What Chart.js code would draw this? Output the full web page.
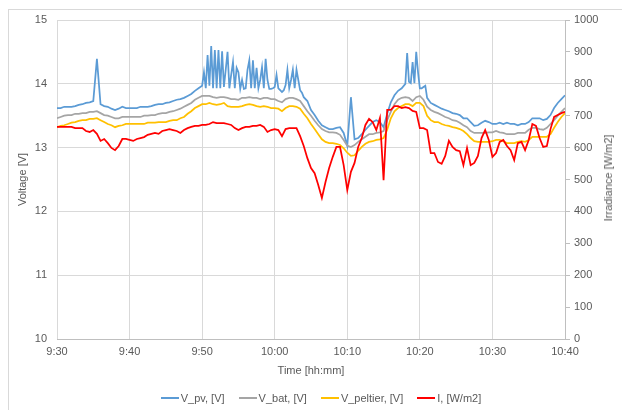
<!DOCTYPE html>
<html><head><meta charset="utf-8">
<script src="https://cdn.jsdelivr.net/npm/chart.js@4"></script>
<style>
html,body{margin:0;padding:0;background:#fff;}
#wrap{position:relative;width:622px;height:410px;overflow:hidden;font-family:'Liberation Sans',Arial,sans-serif;color:#595959;}
#frame{position:absolute;left:8px;top:9px;width:700px;height:500px;border:1px solid #d9d9d9;box-sizing:border-box;}
#c{position:absolute;left:0;top:0;}
#ytitle2{position:absolute;left:608px;top:178px;transform:translate(-50%,-50%) rotate(-90deg);font-size:11px;white-space:nowrap;}
#legend{position:absolute;left:10px;width:622px;top:391px;display:flex;justify-content:center;font-size:11px;line-height:14px;}
#legend .it{display:flex;align-items:center;margin:0 7px;}
#legend .ln{display:inline-block;width:18px;height:0;border-top:2px solid;margin-right:2px;}
</style>
</head><body>
<div id="wrap">
<div id="frame"></div>
<canvas id="c" width="622" height="410"></canvas>
<div id="ytitle2">Irradiance [W/m2]</div>
<div id="legend"></div>
</div>
<script>
// minutes after 9:30
const time = [
0,0.5,1,1.5,2,2.5,3,3.5,4,4.5,
5,5.5,6,6.5,7,7.5,8,8.5,9,9.5,
10,10.5,11,11.5,12,12.5,13,13.5,14,14.5,
15,15.5,16,16.5,17,17.5,18,18.5,19,19.5,
20,20.5,21,21.5,22,22.5,23,23.5,24,24.5,
25,25.5,26,26.5,27,27.5,28,28.5,29,29.5,
30,30.5,31,31.5,32,32.5,33,33.5,34,34.5,
35,35.5,36,36.5,37,37.5,38,38.5,39,39.5,
40,40.5,41,41.5,42,42.5,43,43.5,44,44.5,
45,45.5,46,46.5,47,47.5,48,48.5,49,49.5,
50,50.5,51,51.5,52,52.5,53,53.5,54,54.5,
55,55.5,56,56.5,57,57.5,58,58.5,59,59.5,
60,60.5,61,61.5,62,62.5,63,63.5,64,64.5,
65,65.5,66,66.5,67,67.5,68,68.5,69,69.5,
70];

const vBat = [
13.46,13.48,13.50,13.51,13.51,13.53,13.53,13.54,13.54,13.56,
13.56,13.57,13.54,13.51,13.50,13.48,13.46,13.46,13.48,13.48,
13.48,13.48,13.48,13.48,13.50,13.50,13.51,13.51,13.53,13.54,
13.54,13.56,13.57,13.59,13.61,13.64,13.67,13.70,13.75,13.78,
13.81,13.81,13.81,13.79,13.78,13.79,13.79,13.78,13.76,13.76,
13.75,13.78,13.78,13.79,13.78,13.78,13.76,13.78,13.78,13.76,
13.76,13.73,13.71,13.76,13.78,13.78,13.76,13.73,13.65,13.57,
13.50,13.42,13.35,13.29,13.26,13.24,13.24,13.23,13.20,13.12,
13.03,13.01,13.04,13.09,13.13,13.17,13.21,13.21,13.23,13.24,
13.26,13.43,13.56,13.68,13.75,13.78,13.79,13.78,13.73,13.79,
13.81,13.75,13.64,13.59,13.56,13.54,13.51,13.48,13.46,13.43,
13.42,13.39,13.35,13.32,13.26,13.23,13.23,13.23,13.23,13.24,
13.24,13.26,13.24,13.23,13.21,13.21,13.21,13.23,13.23,13.23,
13.28,13.31,13.31,13.29,13.28,13.31,13.37,13.43,13.50,13.56,
13.62];

const vPeltier = [
13.32,13.34,13.35,13.37,13.39,13.40,13.42,13.43,13.43,13.45,
13.45,13.46,13.43,13.40,13.37,13.35,13.32,13.34,13.35,13.37,
13.37,13.37,13.37,13.37,13.37,13.39,13.39,13.39,13.40,13.40,
13.40,13.42,13.43,13.43,13.46,13.48,13.53,13.57,13.62,13.65,
13.68,13.68,13.70,13.68,13.67,13.68,13.70,13.65,13.64,13.64,
13.64,13.65,13.67,13.68,13.67,13.65,13.64,13.65,13.64,13.62,
13.62,13.61,13.57,13.62,13.65,13.65,13.64,13.61,13.53,13.46,
13.37,13.29,13.21,13.13,13.09,13.07,13.07,13.06,13.04,12.99,
12.92,12.87,12.88,12.95,13.01,13.06,13.09,13.10,13.12,13.13,
13.15,13.28,13.46,13.57,13.62,13.65,13.68,13.68,13.65,13.70,
13.70,13.65,13.50,13.43,13.40,13.40,13.37,13.35,13.34,13.32,
13.31,13.29,13.26,13.21,13.15,13.10,13.09,13.09,13.09,13.09,
13.10,13.12,13.12,13.10,13.07,13.07,13.07,13.09,13.10,13.09,
13.12,13.17,13.17,13.17,13.17,13.17,13.21,13.31,13.40,13.48,
13.54];

const irradiance = [
665,665,665,665,665,661,661,661,652,649,
655,643,621,627,614,599,592,605,627,627,
624,621,627,630,633,640,643,646,643,652,
655,658,655,652,646,655,661,665,668,668,
671,671,674,680,677,677,677,674,671,661,
655,661,665,665,668,668,671,665,649,655,
658,655,636,658,661,661,661,636,605,567,
536,520,483,442,492,536,571,602,602,545,
467,524,552,602,630,671,690,680,655,693,
498,718,718,730,730,724,727,724,715,712,
661,661,655,583,583,555,549,574,621,602,
592,589,545,599,545,552,574,630,655,624,
571,583,618,624,605,592,561,614,618,592,
624,674,668,630,602,605,658,696,702,708,
712];

// V_pv sampled more finely where it oscillates
const timePv = [
0,0.5,1,1.5,2,2.5,3,3.5,4,4.5,
5,5.5,6,6.5,7,7.5,8,8.5,9,9.5,
10,10.5,11,11.5,12,12.5,13,13.5,14,14.5,
15,15.5,16,16.5,17,17.5,18,18.5,19,19.5,
20,20.25,20.5,20.75,21,21.25,21.5,21.75,22,22.25,
22.5,22.75,23,23.25,23.5,23.75,24,24.25,24.5,24.75,
25,25.25,25.5,25.75,26,26.25,26.5,26.75,27,27.25,
27.5,27.75,28,28.25,28.5,28.75,29,29.25,29.5,29.75,
30,30.25,30.5,30.75,31,31.25,31.5,31.75,32,32.25,
32.5,32.75,33,33.25,33.5,33.75,34,
34.5,35,35.5,36,36.5,37,37.5,38,38.5,39,
39.5,40,40.5,41,41.5,42,42.5,43,43.5,44,
44.5,45,45.5,46,46.5,47,47.5,
48,48.25,48.5,48.75,49,49.25,49.5,49.75,50,50.25,50.5,50.75,51,
51.5,52,52.5,53,53.5,54,54.5,55,55.5,56,
56.5,57,57.5,58,58.5,59,59.5,60,60.5,61,
61.5,62,62.5,63,63.5,64,64.5,65,65.5,66,
66.5,67,67.5,68,68.5,69,69.5,70];

const vPv = [
13.62,13.62,13.64,13.64,13.64,13.65,13.67,13.68,13.70,13.71,
13.73,14.39,13.68,13.65,13.64,13.61,13.59,13.61,13.64,13.62,
13.62,13.62,13.62,13.64,13.64,13.64,13.65,13.67,13.68,13.68,
13.70,13.71,13.73,13.75,13.76,13.78,13.81,13.84,13.89,13.93,
13.97,14.18,13.93,14.45,13.97,14.59,13.93,14.53,13.93,14.53,
13.93,14.51,13.95,14.22,14.50,13.93,14.14,14.34,13.93,14.25,
14.18,13.92,14.06,13.92,13.93,14.22,14.37,13.93,14.37,13.93,
14.25,13.93,14.06,14.26,13.93,14.39,14.06,13.92,13.92,13.93,
13.95,14.14,13.93,13.90,13.87,13.90,13.98,14.22,13.93,14.06,
14.22,13.93,14.22,14.06,13.90,13.86,13.79,
13.73,13.59,13.51,13.42,13.35,13.32,13.29,13.29,13.31,13.32,
13.23,13.03,13.79,13.13,13.15,13.21,13.28,13.34,13.40,13.43,
13.40,13.32,13.53,13.71,13.82,13.89,13.93,
14.00,14.48,14.03,14.01,14.34,14.01,14.50,14.18,13.93,13.93,13.95,13.97,13.78,
13.70,13.67,13.64,13.61,13.59,13.57,13.54,13.53,13.51,13.46,
13.46,13.40,13.34,13.35,13.39,13.42,13.40,13.37,13.37,13.39,
13.37,13.39,13.37,13.37,13.35,13.37,13.37,13.40,13.46,13.46,
13.46,13.43,13.45,13.51,13.62,13.70,13.76,13.82];

const timeTickLabels = ['9:30','9:40','9:50','10:00','10:10','10:20','10:30','10:40'];
const seriesNames = ['V_pv, [V]','V_bat, [V]','V_peltier, [V]','I, [W/m2]'];
const seriesColors = ['#5B9BD5','#A5A5A5','#FFC000','#FF0000'];

function pts(xs, ys){ return xs.map((x,i)=>({x:x,y:ys[i]})); }

Chart.defaults.font.family = "'Liberation Sans', Arial, sans-serif";
Chart.defaults.font.size = 11;
Chart.defaults.color = '#595959';

const mk = (i, xs, ys, axis, order) => ({
  label: seriesNames[i], data: pts(xs, ys), yAxisID: axis,
  borderColor: seriesColors[i], backgroundColor: seriesColors[i],
  borderWidth: 1.75, pointRadius: 0, tension: 0, fill: false, order: order
});

new Chart(document.getElementById('c'), {
  type: 'line',
  data: { datasets: [
    mk(0, timePv, vPv, 'y', 4),
    mk(1, time, vBat, 'y', 3),
    mk(2, time, vPeltier, 'y', 2),
    mk(3, time, irradiance, 'y1', 1)
  ]},
  options: {
    responsive: false, animation: false, devicePixelRatio: 1,
    layout: { padding: { left: 0, right: 0, top: 20, bottom: 30 } },
    plugins: { legend: { display: false }, tooltip: { enabled: false } },
    scales: {
      x: {
        type: 'linear', min: 0, max: 70,
        ticks: { stepSize: 10, padding: 6, maxRotation: 0,
          callback: (v) => timeTickLabels[Math.round(v/10)] },
        grid: { color: '#d9d9d9', drawTicks: false },
        border: { display: true, color: '#bfbfbf' },
        title: { display: true, text: 'Time [hh:mm]', padding: { top: 0, bottom: 2 } },
        afterFit: (s) => { s.height = 41; }
      },
      y: {
        position: 'left', min: 10, max: 15,
        ticks: { stepSize: 1, padding: 10, callback: (v) => String(v) },
        grid: { color: '#d9d9d9', drawTicks: false },
        border: { display: false },
        title: { display: true, text: 'Voltage [V]', padding: { top: 16, bottom: 0 } },
        afterFit: (s) => { s.width = 57; }
      },
      y1: {
        position: 'right', min: 0, max: 1000,
        ticks: { stepSize: 100, padding: 4, callback: (v) => String(v) },
        grid: { drawOnChartArea: false, drawTicks: true, tickLength: 5, color: '#bfbfbf' },
        border: { display: true, color: '#bfbfbf' },
        afterFit: (s) => { s.width = 57; }
      }
    }
  }
});

const lg = document.getElementById('legend');
seriesNames.forEach((n,i)=>{
  const it = document.createElement('div'); it.className='it';
  const ln = document.createElement('span'); ln.className='ln'; ln.style.borderTopColor = seriesColors[i];
  const tx = document.createElement('span'); tx.textContent = n;
  it.appendChild(ln); it.appendChild(tx); lg.appendChild(it);
});
</script>
</body></html>
